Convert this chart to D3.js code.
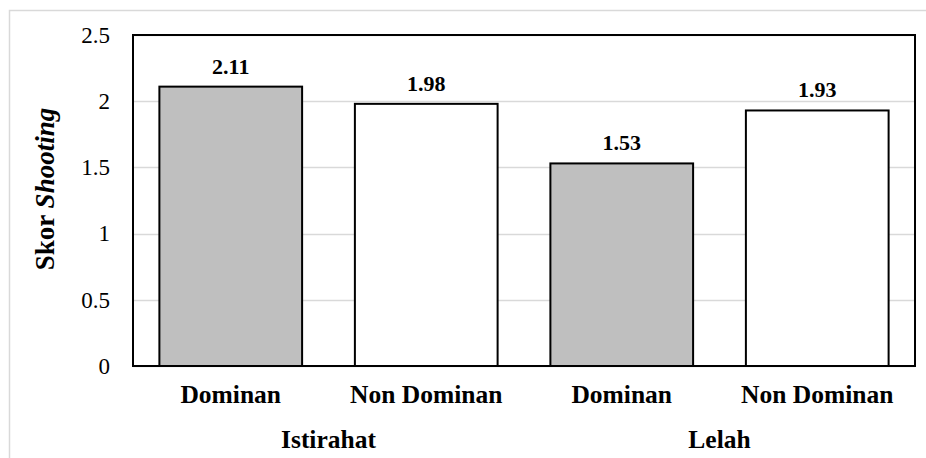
<!DOCTYPE html>
<html>
<head>
<meta charset="utf-8">
<script src="https://cdn.jsdelivr.net/npm/d3@7"></script>
<style>
body { margin: 0; background: #fff; }
text { font-family: "Liberation Serif", "Times New Roman", serif; fill: #000; }
</style>
</head>
<body>
<div id="chart"></div>
<script>
// data
let groups = ["Istirahat", "Lelah"];
let categories = ["Dominan", "Non Dominan"];
let values = [2.11, 1.98, 1.53, 1.93];
let fills = ["#bfbfbf", "#ffffff"];
let yTicks = [0, 0.5, 1, 1.5, 2, 2.5];

let width = 926,
height = 458;

let margin = {top: 35, right: 11, bottom: 92, left: 133};

let svg = d3.select("#chart")
  .append("svg")
  .attr("width", width)
  .attr("height", height);

// outer chart frame
svg.append("rect")
  .attr("x", 9.5)
  .attr("y", 10.5)
  .attr("width", width)
  .attr("height", height)
  .attr("fill", "none")
  .attr("stroke", "#d9d9d9")
  .attr("stroke-width", 1.5);

// one entry per bar
let bars = [];
groups.forEach((g, i) => {
  categories.forEach((c, j) => {
    bars.push({group: g, cat: c, key: g + "|" + c, value: values[i * categories.length + j], fill: fills[j]});
  });
});

let x = d3.scaleBand()
  .domain(bars.map(d => d.key))
  .range([margin.left, width - margin.right])
  .paddingInner(0.27)
  .paddingOuter(0.135);

let y = d3.scaleLinear()
  .domain([0, 2.5])
  .range([height - margin.bottom, margin.top]);

// gridlines
svg.append("g")
  .selectAll("line")
  .data(yTicks)
  .join("line")
  .attr("x1", margin.left)
  .attr("x2", width - margin.right)
  .attr("y1", d => Math.round(y(d)) + 0.5)
  .attr("y2", d => Math.round(y(d)) + 0.5)
  .attr("stroke", "#d9d9d9")
  .attr("stroke-width", 1.5);

// y axis labels
let yAxis = d3.axisLeft(y).tickValues(yTicks).tickSize(0).tickPadding(23).tickFormat(d3.format("~g"));
svg.append("g")
  .attr("transform", `translate(${margin.left},0)`)
  .call(yAxis)
  .call(g => g.select(".domain").remove())
  .selectAll("text")
  .style("font-family", "Liberation Serif")
  .style("font-size", "23px")
  .attr("fill", "#000");

// bars
svg.append("g")
  .selectAll("rect")
  .data(bars)
  .join("rect")
  .attr("x", d => x(d.key))
  .attr("y", d => y(d.value))
  .attr("width", x.bandwidth())
  .attr("height", d => y(0) - y(d.value))
  .attr("fill", d => d.fill)
  .attr("stroke", "#000")
  .attr("stroke-width", 2);

// value labels
svg.append("g")
  .selectAll("text")
  .data(bars)
  .join("text")
  .attr("x", d => x(d.key) + x.bandwidth() / 2)
  .attr("y", d => y(d.value) - 13)
  .attr("text-anchor", "middle")
  .style("font-size", "22px")
  .style("font-weight", "bold")
  .text(d => d3.format(".2f")(d.value));

// plot frame
svg.append("rect")
  .attr("x", margin.left)
  .attr("y", margin.top)
  .attr("width", width - margin.right - margin.left)
  .attr("height", height - margin.bottom - margin.top)
  .attr("fill", "none")
  .attr("stroke", "#000")
  .attr("stroke-width", 2);

// category labels
svg.append("g")
  .selectAll("text")
  .data(bars)
  .join("text")
  .attr("x", d => x(d.key) + x.bandwidth() / 2)
  .attr("y", 403)
  .attr("text-anchor", "middle")
  .style("font-size", "25.5px")
  .style("font-weight", "bold")
  .text(d => d.cat);

// group labels
svg.append("g")
  .selectAll("text")
  .data(groups)
  .join("text")
  .attr("x", (g, i) => {
    let keys = bars.filter(d => d.group === g).map(d => d.key);
    let a = x(keys[0]) - x.step() * x.paddingInner() / 2;
    let b = x(keys[keys.length - 1]) + x.bandwidth() + x.step() * x.paddingInner() / 2;
    return (a + b) / 2;
  })
  .attr("y", 448)
  .attr("text-anchor", "middle")
  .style("font-size", "25.5px")
  .style("font-weight", "bold")
  .text(d => d);

// y title
let title = svg.append("text")
  .attr("transform", `translate(54,189) rotate(-90)`)
  .attr("text-anchor", "middle")
  .style("font-size", "27px")
  .style("font-weight", "bold");
title.append("tspan").text("Skor ");
title.append("tspan").style("font-style", "italic").text("Shooting");
</script>
</body>
</html>
